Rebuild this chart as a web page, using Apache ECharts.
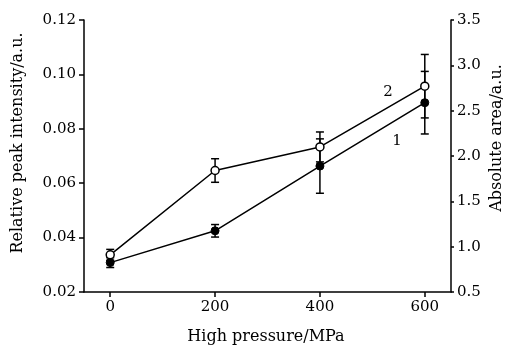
<!DOCTYPE html>
<html>
<head>
<meta charset="utf-8">
<script src="https://cdn.jsdelivr.net/npm/echarts@6/dist/echarts.min.js"></script>
<style>html,body{margin:0;padding:0;background:#fff}#c{width:511px;height:347px}</style>
</head>
<body>
<div id="c"></div>
<script>
var pressures = [0, 200, 400, 600];
var xTicks = [0, 200, 400, 600];
// curve 1 (filled): relative peak intensity (left axis)
var curve1 = [0.0308, 0.0425, 0.0663, 0.0896];
var curve1Err = [0.0018, 0.0023, 0.0100, 0.0115];
// curve 2 (open): absolute area (right axis)
var curve2 = [0.91, 1.84, 2.10, 2.77];
var curve2Err = [0.06, 0.13, 0.165, 0.35];
var curveLabels = ['1', '2'];

var FONT = 'DejaVu Serif';
var chart = echarts.init(document.getElementById('c'), null, {renderer: 'canvas'});

function errData(vals, errs) {
  return pressures.map(function (p, i) { return [p, vals[i] - errs[i], vals[i] + errs[i]]; });
}
function errRender(params, api) {
  var x = api.value(0);
  var lo = api.coord([x, api.value(1)]);
  var hi = api.coord([x, api.value(2)]);
  var w = 4;
  var st = {stroke: '#000', lineWidth: 1.5};
  return {type: 'group', children: [
    {type: 'line', shape: {x1: lo[0], y1: lo[1], x2: hi[0], y2: hi[1]}, style: st},
    {type: 'line', shape: {x1: lo[0] - w, y1: lo[1], x2: lo[0] + w, y2: lo[1]}, style: st},
    {type: 'line', shape: {x1: hi[0] - w, y1: hi[1], x2: hi[0] + w, y2: hi[1]}, style: st}
  ]};
}
function pairs(vals) { return pressures.map(function (p, i) { return [p, vals[i]]; }); }

var axisLine = {show: true, onZero: false, lineStyle: {color: '#000', width: 1.5}};
var axisTick = {show: true, length: 5, lineStyle: {color: '#000', width: 1.5}};
var labelStyle = {color: '#000', fontFamily: FONT, fontSize: 15};

chart.setOption({
  animation: false,
  backgroundColor: '#fff',
  grid: {left: 84, right: 60, top: 20, bottom: 55},
  xAxis: {
    type: 'value', min: -50, max: 650,
    axisLine: axisLine,
    axisTick: Object.assign({customValues: xTicks}, axisTick),
    axisLabel: Object.assign({customValues: xTicks, margin: 8}, labelStyle),
    splitLine: {show: false}
  },
  yAxis: [{
    type: 'value', min: 0.02, max: 0.12, interval: 0.02, position: 'left',
    axisLine: axisLine, axisTick: axisTick,
    axisLabel: Object.assign({margin: 8, formatter: function (v) { return v.toFixed(2); }}, labelStyle),
    splitLine: {show: false}
  }, {
    type: 'value', min: 0.5, max: 3.5, interval: 0.5, position: 'right',
    axisLine: axisLine, axisTick: Object.assign({}, axisTick, {length: 3}),
    axisLabel: Object.assign({margin: 6, formatter: function (v) { return v.toFixed(1); }}, labelStyle),
    splitLine: {show: false}
  }],
  series: [
    {type: 'custom', yAxisIndex: 0, renderItem: errRender, data: errData(curve1, curve1Err), z: 3},
    {type: 'custom', yAxisIndex: 1, renderItem: errRender, data: errData(curve2, curve2Err), z: 3},
    {type: 'line', yAxisIndex: 0, data: pairs(curve1), symbol: 'circle', symbolSize: 8,
     lineStyle: {color: '#000', width: 1.5}, itemStyle: {color: '#000', borderColor: '#000', borderWidth: 1}, z: 4},
    {type: 'line', yAxisIndex: 1, data: pairs(curve2), symbol: 'circle', symbolSize: 8,
     lineStyle: {color: '#000', width: 1.5}, itemStyle: {color: '#fff', borderColor: '#000', borderWidth: 1.5}, z: 4}
  ],
  graphic: [
    {type: 'text', x: 18, y: 143, rotation: Math.PI / 2,
     style: {text: 'Relative peak intensity/a.u.', fill: '#000', font: '16px "DejaVu Serif"', align: 'center', verticalAlign: 'middle'}},
    {type: 'text', x: 497, y: 138, rotation: Math.PI / 2,
     style: {text: 'Absolute area/a.u.', fill: '#000', font: '16px "DejaVu Serif"', align: 'center', verticalAlign: 'middle'}},
    {type: 'text', x: 266, y: 337,
     style: {text: 'High pressure/MPa', fill: '#000', font: '16px "DejaVu Serif"', align: 'center', verticalAlign: 'middle'}},
    {type: 'text', x: 388, y: 92,
     style: {text: curveLabels[1], fill: '#000', font: '15px "DejaVu Serif"', align: 'center', verticalAlign: 'middle'}},
    {type: 'text', x: 397, y: 141,
     style: {text: curveLabels[0], fill: '#000', font: '15px "DejaVu Serif"', align: 'center', verticalAlign: 'middle'}}
  ]
});
</script>
</body>
</html>
